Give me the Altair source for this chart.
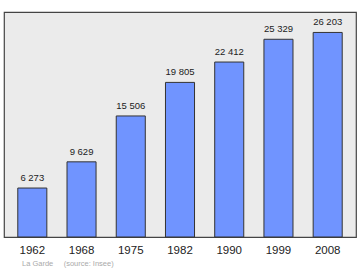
import altair as alt
import pandas as pd

years = ["1962", "1968", "1975", "1982", "1990", "1999", "2008"]
population = [6273, 9629, 15506, 19805, 22412, 25329, 26203]

df = pd.DataFrame({"year": years, "pop": population})
df["label"] = [f"{v:,}".replace(",", "\u00a0") for v in population]

x = alt.X("year:N", sort=None,
          scale=alt.Scale(paddingInner=0.41, paddingOuter=0.28),
          axis=alt.Axis(title=None, labelAngle=0, ticks=False, domain=False,
                        labelFontSize=11.5, labelColor="#222", labelPadding=7,
                        labelFont="Liberation Sans"))
y = alt.Y("pop:Q", scale=alt.Scale(domain=[0, 28823], nice=False),
          axis=None)

bars = alt.Chart(df).mark_bar(color="#7094ff", stroke="#333", strokeWidth=1).encode(x=x, y=y)
labels = alt.Chart(df).mark_text(baseline="bottom", dy=-5, fontSize=9.5,
                                 font="Liberation Sans", color="#222").encode(
    x=x, y=y, text="label:N")

chart = (bars + labels).properties(
    width=352, height=225,
    autosize=alt.AutoSizeParams(type="none"),
    padding={"left": 4, "top": 12, "right": 4, "bottom": 33},
    background="white",
    title=alt.TitleParams("La Garde\u00a0\u00a0\u00a0\u00a0\u00a0(source: Insee)",
                          orient="bottom", anchor="start",
                          fontSize=7.5, color="#aaa", fontWeight="normal",
                          font="Liberation Sans", dx=18, offset=4),
).configure_view(fill="#ebebeb", stroke="#444", strokeWidth=1.2)

chart.save("out.html", embed_options={"renderer": "svg", "actions": False})
